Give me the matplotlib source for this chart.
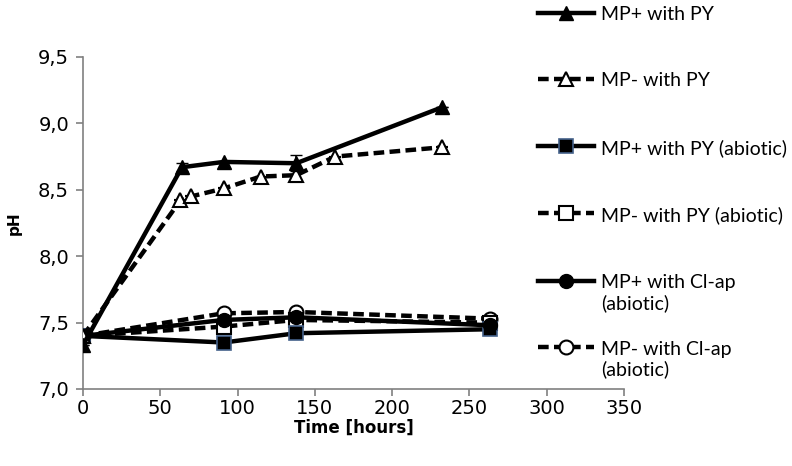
import numpy as np
import matplotlib
matplotlib.use('Agg')
import matplotlib.pyplot as plt

# data
t_mp_py=[0,64,91,138,232]
ph_mp_py=[7.33,8.67,8.71,8.70,9.12]
err_mp_py=[0,0.03,0,0.06,0]

t_mn_py=[0,63,70,91,115,138,163,232]
ph_mn_py=[7.40,8.42,8.45,8.51,8.60,8.61,8.75,8.82]
err_mn_py=[0,0,0,0,0,0.05,0,0]

t_abio=[0,91,138,263]
ph_mp_py_abio=[7.40,7.35,7.42,7.45]
ph_mn_py_abio=[7.40,7.47,7.52,7.50]
ph_mp_cl_abio=[7.40,7.52,7.54,7.48]
ph_mn_cl_abio=[7.40,7.57,7.58,7.53]

labels=['MP+ with PY','MP- with PY','MP+ with PY (abiotic)','MP- with PY (abiotic)',
	'MP+ with Cl-ap\n(abiotic)','MP- with Cl-ap\n(abiotic)']

fig=plt.figure(figsize=(7.92,4.66),dpi=100)
ax=fig.add_axes([83/792,(466-389)/466,(624-83)/792,(389-57)/466])

lw=3.2
dash=(2.4,1.2)
ms=10
handles=[]
h=ax.errorbar(t_mp_py,ph_mp_py,yerr=err_mp_py,color='black',lw=lw,marker='^',ms=ms,
	mfc='black',mec='black',capsize=4,elinewidth=1.2,zorder=6)
handles.append(h.lines[0])
h=ax.errorbar(t_mn_py,ph_mn_py,yerr=err_mn_py,color='black',lw=lw,marker='^',ms=ms,
	mfc='white',mec='black',mew=1.5,capsize=4,elinewidth=1.2,dashes=dash,zorder=5)
handles.append(h.lines[0])
l,=ax.plot(t_abio,ph_mp_py_abio,color='black',lw=lw,marker='s',ms=ms,mfc='black',mec='#44618a',mew=1.2,zorder=3)
handles.append(l)
l,=ax.plot(t_abio,ph_mn_py_abio,color='black',lw=lw,marker='s',ms=ms,mfc='white',mec='black',mew=1.5,dashes=dash,zorder=2)
handles.append(l)
l,=ax.plot(t_abio,ph_mp_cl_abio,color='black',lw=lw,marker='o',ms=ms,mfc='black',mec='black',zorder=4)
handles.append(l)
l,=ax.plot(t_abio,ph_mn_cl_abio,color='black',lw=lw,marker='o',ms=ms,mfc='white',mec='black',mew=1.5,dashes=dash,zorder=1)
handles.append(l)

ax.set_xlim(0,350)
ax.set_ylim(7.0,9.5)
ax.set_xticks(np.arange(0,351,50))
yt=np.arange(7.0,9.51,0.5)
ax.set_yticks(yt)
ax.set_yticklabels([('%.1f'%v).replace('.',',') for v in yt])
for s in ['top','right']:
	ax.spines[s].set_visible(False)
for s in ['left','bottom']:
	ax.spines[s].set_color('#808080')
	ax.spines[s].set_linewidth(1.2)
ax.tick_params(direction='out',length=5,width=1.2,color='#808080',labelsize=14,pad=5)
ax.tick_params(axis='x',pad=2)
ax.set_xlabel('Time [hours]',fontweight='bold',fontsize=12,labelpad=1)
ax.set_ylabel('pH',fontweight='bold',fontsize=11,labelpad=12)

# legend in two pieces so the last entry sits where it does in the original
legopts=dict(loc='upper left',frameon=False,prop={'family':'Lato','size':14},
	handlelength=2.9,handletextpad=0.35,numpoints=1)
leg1=fig.legend(handles[:5],labels[:5],bbox_to_anchor=(0.657,1.025),labelspacing=2.55,**legopts)
leg2=fig.legend(handles[5:],labels[5:],bbox_to_anchor=(0.657,(466-323)/466),**legopts)
# handle next to the first line of a two-line label
for lg in (leg1,leg2):
	for col in lg._legend_handle_box.get_children():
		for hp in col.get_children():
			hp.align='top'

fig.savefig('out.png',dpi=100)
